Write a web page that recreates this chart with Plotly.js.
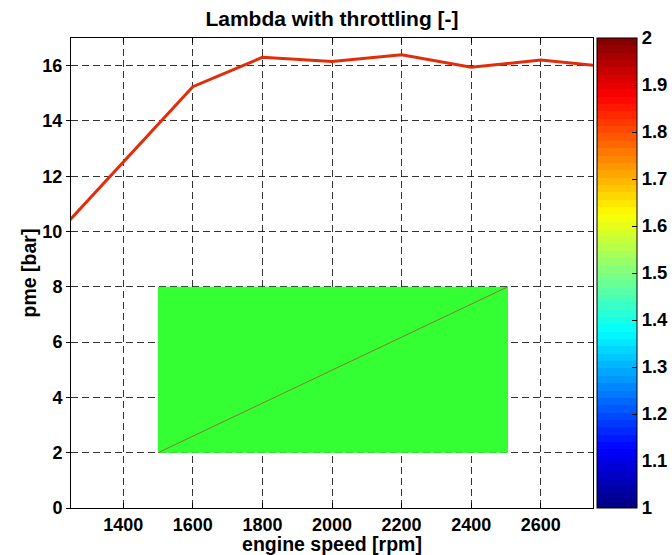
<!DOCTYPE html>
<html>
<head>
<meta charset="utf-8">
<script src="https://cdn.plot.ly/plotly-3.0.1.min.js"></script>
<style>html,body{margin:0;padding:0;background:#fff;}#chart{width:672px;height:555px;}</style>
</head>
<body>
<div id="chart"></div>
<script>
// ---- data ----
const engineSpeed = [1200, 1400, 1600, 1800, 2000, 2200, 2400, 2600, 2800];      // rpm
const pmeFullLoad = [9.78, 12.51, 15.24, 16.30, 16.15, 16.39, 15.94, 16.20, 15.95]; // bar
const regionSpeed = [1500, 2505];   // rpm, edges of the throttled region
const regionPme = [2, 8];           // bar, edges of the throttled region
const regionLambda = [[1.5]];       // lambda value in the region
const lambdaTicks = [1, 1.1, 1.2, 1.3, 1.4, 1.5, 1.6, 1.7, 1.8, 1.9, 2];
const speedTicks = [1400, 1600, 1800, 2000, 2200, 2400, 2600];
const pmeTicks = [0, 2, 4, 6, 8, 10, 12, 14, 16];

// ---- MATLAB-style 64 step jet colour scale (style only) ----
function clamp(v) { return Math.max(0, Math.min(1, v)); }
function jet(t) {
  const r = clamp(1.5 - Math.abs(4 * t - 3));
  const g = clamp(1.5 - Math.abs(4 * t - 2));
  const b = clamp(1.5 - Math.abs(4 * t - 1));
  return 'rgb(' + Math.round(r * 255) + ',' + Math.round(g * 255) + ',' + Math.round(b * 255) + ')';
}
const N = 64;
const jetScale = [];
for (let k = 0; k < N; k++) {
  const c = jet((k + 0.5) / N);
  jetScale.push([k / N, c]);
  jetScale.push([(k + 1) / N, c]);
}

const font = {family: 'Liberation Sans, Arial, sans-serif', color: '#000', weight: 'bold'};
const tickFont = Object.assign({}, font, {size: 18});
const cbTickFont = Object.assign({}, font, {size: 18.5});
const axisTitleFont = Object.assign({}, font, {size: 19.5});
const mainTitleFont = Object.assign({}, font, {size: 21});

const traces = [
  {
    type: 'heatmap',
    x: regionSpeed, y: regionPme, z: regionLambda,
    colorscale: [[0, '#33ff33'], [1, '#33ff33']],
    showscale: false, hoverinfo: 'skip'
  },
  {
    type: 'scatter', mode: 'lines',
    x: regionSpeed, y: regionPme,
    line: {color: 'rgb(140,120,50)', width: 1},
    showlegend: false, hoverinfo: 'skip'
  },
  {
    type: 'scatter', mode: 'lines',
    x: engineSpeed, y: pmeFullLoad,
    line: {color: 'rgb(225,45,10)', width: 3},
    showlegend: false
  },
  {
    type: 'scatter', mode: 'markers',
    x: [null], y: [null],
    marker: {
      color: [1, 2], cmin: 1, cmax: 2, colorscale: jetScale, showscale: true,
      colorbar: {
        x: 1.0077, xanchor: 'left', xref: 'paper', xpad: 0,
        y: 0.5, yanchor: 'middle', len: 1, lenmode: 'fraction', ypad: 0,
        thickness: 40, outlinewidth: 1, outlinecolor: '#000',
        tickmode: 'array', tickvals: lambdaTicks,
        ticktext: lambdaTicks.map(String),
        ticks: 'inside', ticklen: 5, tickcolor: '#000',
        tickfont: cbTickFont
      }
    },
    showlegend: false, hoverinfo: 'skip'
  }
];

const layout = {
  width: 672, height: 555,
  margin: {l: 71, r: 79, t: 38, b: 47, pad: 0, autoexpand: false},
  paper_bgcolor: '#fff', plot_bgcolor: '#fff',
  showlegend: false,
  title: {
    text: 'Lambda with throttling [-]', font: mainTitleFont,
    x: 0.5, xref: 'paper', xanchor: 'center',
    y: (555 - 18.5) / 555, yref: 'container', yanchor: 'middle'
  },
  xaxis: {
    range: [1250, 2750], tickmode: 'array', tickvals: speedTicks,
    ticktext: speedTicks.map(String),
    showline: true, linecolor: '#000', linewidth: 1, mirror: 'ticks',
    ticks: 'inside', ticklen: 5, tickcolor: '#000',
    showgrid: true, gridcolor: 'rgba(0,0,0,0.8)', gridwidth: 1, griddash: '7px,4px',
    zeroline: false, tickfont: tickFont, automargin: false,
    title: {text: 'engine speed [rpm]', font: axisTitleFont, standoff: 5}
  },
  yaxis: {
    range: [0, 17], tickmode: 'array', tickvals: pmeTicks,
    ticktext: pmeTicks.map(String),
    showline: true, linecolor: '#000', linewidth: 1, mirror: true,
    ticks: 'outside', ticklen: 4, tickcolor: '#000',
    showgrid: true, gridcolor: 'rgba(0,0,0,0.8)', gridwidth: 1, griddash: '7px,4px',
    zeroline: false, tickfont: tickFont, automargin: false,
    title: {text: 'pme [bar]', font: axisTitleFont, standoff: 0}
  }
};

Plotly.newPlot('chart', traces, layout, {displayModeBar: false, staticPlot: true});
</script>
</body>
</html>
